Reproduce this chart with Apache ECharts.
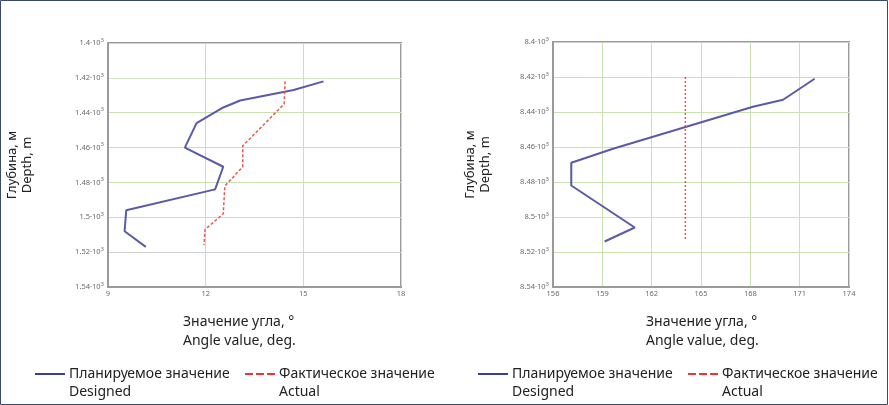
<!DOCTYPE html>
<html><head><meta charset="utf-8">
<script src="https://cdn.jsdelivr.net/npm/echarts@6/dist/echarts.min.js"></script>
<style>html,body{margin:0;padding:0;background:#fff}#c{width:889px;height:405px}</style>
</head><body><div id="c"></div>
<script>
// Left chart (depth m, angle deg)
const leftDesigned = [[15.62,1422],[14.70,1427],[13.06,1433],[12.54,1437],[11.72,1446],[11.36,1460],[12.54,1471],[12.29,1484],[9.56,1496],[9.51,1508],[10.16,1517]];
const leftActual = [[14.44,1422],[14.41,1435],[13.14,1459],[13.14,1471],[12.59,1482],[12.54,1498],[11.98,1507],[11.95,1516]];
// Right chart
const rightDesigned = [[171.91,8421],[169.99,8433],[168.16,8437],[159.65,8461],[157.11,8469],[157.11,8482],[160.97,8506],[159.14,8514]];
const rightActual = [[164.05,8420],[164.05,8440],[164.05,8460],[164.05,8480],[164.05,8500],[164.05,8513]];
const leftX = {min: 9, max: 18, step: 3};
const leftY = {min: 1400, max: 1540, step: 20};
const rightX = {min: 156, max: 174, step: 3};
const rightY = {min: 8400, max: 8540, step: 20};
const nameDesigned = 'Планируемое значение';
const nameActual = 'Фактическое значение';
const subDesigned = 'Designed';
const subActual = 'Actual';
const yTitle = 'Глубина, м\nDepth, m';
const xTitle = 'Значение угла, °\nAngle value, deg.';

const FONT = '"Noto Sans", sans-serif';
const BLUE = '#3d3d98';
const RED = '#e8343c';
const GREEN = '#c9e2b0';
const GRAY = '#cfcfcf';

function yLab(v){ return '{a|' + (v/1000) + '·10}{b|3}'; }
const tickRich = {a:{fontSize:7.5,color:'#6a6a6a',fontFamily:FONT}, b:{fontSize:6,color:'#6a6a6a',fontFamily:FONT,verticalAlign:'top',padding:[0,0,6,0]}};

function xAxis(idx, r){
  return {gridIndex: idx, type:'value', min:r.min, max:r.max, interval:r.step,
    axisLine:{show:true, lineStyle:{color:'#9a9a9a', width:2}}, axisTick:{show:false},
    axisLabel:{fontSize:7.5, color:'#6a6a6a', fontFamily:FONT, margin:3},
    splitLine:{show:true, lineStyle:{color:GREEN, width:1}}};
}
function yAxis(idx, r, colors, gap){
  return {gridIndex: idx, type:'value', inverse:true, min:r.min, max:r.max, interval:r.step,
    axisLine:{show:true, lineStyle:{color:'#9a9a9a', width:2}}, axisTick:{show:false},
    axisLabel:{formatter:yLab, rich:tickRich, margin:4},
    splitLine:{show:true, lineStyle:{color:colors, width:1}},
    name: yTitle, nameLocation:'middle', nameRotate:90, nameGap:gap,
    nameTextStyle:{fontSize:13, color:'#222', fontFamily:FONT, lineHeight:15}};
}
const dashIcon = 'path://M0,0h8v2h-8z M11,0h8v2h-8z M22,0h8v2h-8z';
function legend(left, name, icon){
  return {left:left, top:347, padding:0, orient:'horizontal', itemWidth:30, itemHeight:2, itemGap:0,
    data:[{name:name, icon:icon}], selectedMode:false,
    formatter: n => '\n' + n + '\n' + (n===nameDesigned?subDesigned:subActual),
    textStyle:{fontSize:14, color:'#222', fontFamily:FONT, lineHeight:18, padding:[0,0,0,-1]}};
}

const chart = echarts.init(document.getElementById('c'), null, {renderer:'canvas'});
chart.setOption({
  animation:false,
  backgroundColor:'#fff',
  grid:[
    {left:108, right:488, top:43, bottom:118, show:true, borderColor:'#9a9a9a', borderWidth:2, backgroundColor:'#fff'},
    {left:553, right:40, top:42, bottom:118, show:true, borderColor:'#9a9a9a', borderWidth:2, backgroundColor:'#fff'}
  ],
  xAxis:[xAxis(0,leftX), xAxis(1,rightX)],
  yAxis:[yAxis(0,leftY,[GRAY,'#d6e6c4',GREEN,GREEN,GREEN,'#d2d8cc',GRAY,GRAY],73),
         yAxis(1,rightY,[GRAY,GREEN,GREEN,GREEN,GREEN,'#d6dccf',GREEN,GRAY],60)],
  legend:[legend(35,nameDesigned,'rect'), legend(245,nameActual,dashIcon),
          legend(478,nameDesigned,'rect'), legend(688,nameActual,dashIcon)],
  series:[
    {name:nameDesigned, type:'line', xAxisIndex:0, yAxisIndex:0, data:leftDesigned, showSymbol:false, symbol:'none', color:BLUE, lineStyle:{color:'#5a5aa8', width:2}},
    {name:nameActual, type:'line', xAxisIndex:0, yAxisIndex:0, data:leftActual, showSymbol:false, symbol:'none', color:RED, lineStyle:{color:'#e05a50', width:1.5, type:[3,2]}},
    {name:nameDesigned, type:'line', xAxisIndex:1, yAxisIndex:1, data:rightDesigned, showSymbol:false, symbol:'none', color:BLUE, lineStyle:{color:'#5a5aa8', width:2}},
    {name:nameActual, type:'line', xAxisIndex:1, yAxisIndex:1, data:rightActual, showSymbol:false, symbol:'none', color:RED, lineStyle:{color:'#e05a50', width:1.5, type:[2,2]}}
  ],
  graphic:[
    {type:'rect', shape:{x:0.5, y:0.5, width:887, height:404}, style:{fill:'none', stroke:'#3b4a6b', lineWidth:1}, silent:true},
    {type:'text', left:183, top:313, style:{text:xTitle, fontSize:14, fill:'#222', fontFamily:FONT, lineHeight:19, align:'center'}},
    {type:'text', left:646, top:313, style:{text:xTitle, fontSize:14, fill:'#222', fontFamily:FONT, lineHeight:19, align:'center'}}
  ]
});
</script></body></html>
